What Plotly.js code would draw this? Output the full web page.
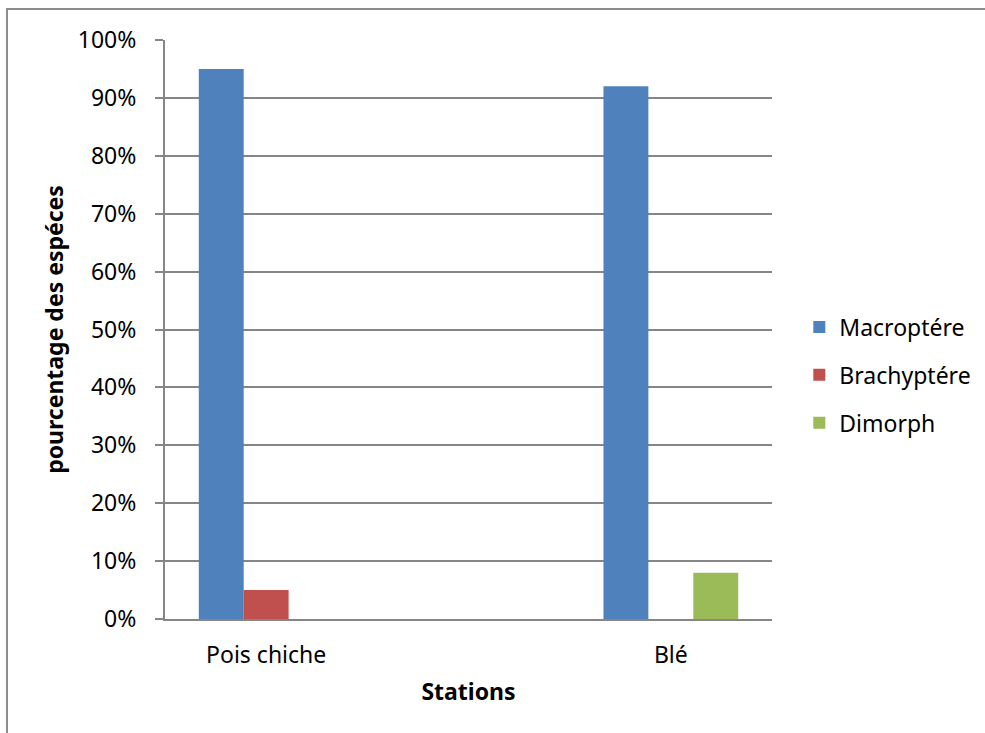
<!DOCTYPE html>
<html>
<head>
<meta charset="utf-8">
<script src="https://cdn.plot.ly/plotly-3.0.1.min.js"></script>
<style>
  html, body { margin: 0; padding: 0; background: #ffffff; overflow: hidden; width: 985px; height: 733px; }
  #chart { width: 985px; height: 733px; overflow: hidden; }
</style>
</head>
<body>
<div id="chart"></div>
<script>
// Stations (the middle slot is an empty category)
const stations = ["Pois chiche", " ", "Blé"];

// Share of species by wing type, per station
const macroptere = [0.95, null, 0.92];
const brachyptere = [0.05, null, null];
const dimorph = [null, null, 0.08];

const seriesNames = ["Macroptére", "Brachyptére", "Dimorph"];
const seriesColors = ["#4F81BD", "#C0504D", "#9BBB59"];
const seriesValues = [macroptere, brachyptere, dimorph];

const FONT = "Noto Sans, Open Sans, sans-serif";
const GRID = "#868686";

const traces = seriesValues.map((vals, i) => ({
  type: "bar",
  name: seriesNames[i],
  legendgroup: "g" + i,
  x: stations,
  y: vals,
  marker: { color: seriesColors[i], line: { width: 0 } },
  hoverinfo: "skip"
}));

const layout = {
  width: 985,
  height: 733,
  paper_bgcolor: "#ffffff",
  plot_bgcolor: "#ffffff",
  margin: { l: 165, r: 213, t: 40, b: 114, pad: 0, autoexpand: false },
  barmode: "group",
  bargap: 0.334,
  bargroupgap: 0,
  font: { family: FONT, size: 23, color: "#000000" },
  showlegend: true,
  legend: {
    x: 1.045, xanchor: "left",
    y: 0.4214, yanchor: "middle",
    font: { family: FONT, size: 23, color: "#000000" },
    tracegroupgap: 15,
    bgcolor: "rgba(0,0,0,0)"
  },
  xaxis: {
    type: "category",
    showline: true,
    linecolor: GRID,
    linewidth: 2,
    ticks: "",
    showgrid: false,
    ticklabelstandoff: 14,
    tickfont: { family: FONT, size: 23, color: "#000000" },
    title: {
      text: "Stations",
      font: { family: FONT, size: 23, color: "#000000", weight: "bold" },
      standoff: 15
    },
    automargin: false,
    fixedrange: true
  },
  yaxis: {
    range: [0, 1],
    dtick: 0.1,
    tick0: 0,
    tickformat: ".0%",
    showline: true,
    linecolor: GRID,
    linewidth: 2,
    ticks: "outside",
    ticklen: 8,
    tickwidth: 2,
    tickcolor: GRID,
    showgrid: true,
    gridcolor: GRID,
    gridwidth: 2,
    zeroline: false,
    ticklabelstandoff: 14,
    tickfont: { family: FONT, size: 23, color: "#000000" },
    title: {
      text: "pourcentage des espéces",
      font: { family: FONT, size: 23, color: "#000000", weight: "bold" },
      standoff: 8
    },
    automargin: false,
    fixedrange: true
  },
  shapes: [{
    type: "rect",
    xref: "paper", yref: "paper",
    x0: -0.2603, x1: 1.37,
    y0: -0.21, y1: 1.0535,
    line: { color: "#8c8c8c", width: 2 },
    fillcolor: "rgba(0,0,0,0)",
    layer: "below"
  }]
};

Plotly.newPlot("chart", traces, layout, { staticPlot: true, displayModeBar: false });
</script>
</body>
</html>
